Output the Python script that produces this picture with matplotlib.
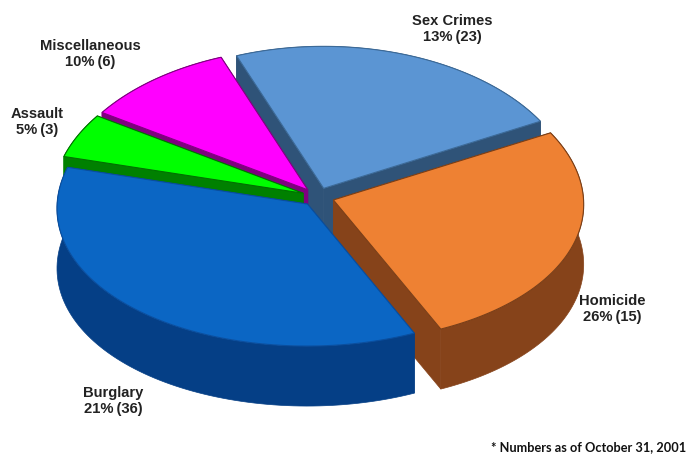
import matplotlib
matplotlib.use('Agg')
import matplotlib.pyplot as plt
import numpy as np
from matplotlib.patches import Polygon

names = ['Sex Crimes', 'Homicide', 'Burglary', 'Assault', 'Miscellaneous']
shares = [23, 26, 36, 5, 10]
percent_text = ['13%', '26%', '21%', '5%', '10%']
count_text = ['(23)', '(15)', '(36)', '(3)', '(6)']
top_colors = ['#5B95D3', '#EE8133', '#0B66C4', '#00FF00', '#FF00FF']
wall_colors = ['#2F5378', '#86431A', '#053F86', '#008000', '#7F007F']
edge_colors = ['#3C6A98', '#7A3F18', '#0A4E9E', '#007000', '#800080']

# label anchors, in pixels of the finished figure
label_pos = [(452, 29), (612, 309), (113, 401), (37, 122), (90, 54)]
draw_order = [0, 4, 3, 1, 2]

cx, cy = 318, 197
rx, ry = 250, 142
depth = 60
explode = 0.065
start = -21.0
persp_x = 0.03

fig = plt.figure(figsize=(6.88, 4.54), dpi=100)
ax = fig.add_axes([0, 0, 1, 1])
ax.set_xlim(0, 688)
ax.set_ylim(454, 0)
ax.axis('off')

edges = start + np.cumsum([0] + shares) * 3.6


# u to the right, v towards the viewer, both in units of the pie radius
def project(u, v):
    x = cx + rx * u * (1 + persp_x * v)
    y = cy + ry * v
    return np.column_stack([x, y])


for i in draw_order:
    a0, a1 = edges[i], edges[i + 1]
    mid = np.radians((a0 + a1) / 2)
    u0 = explode * np.sin(mid)
    v0 = -explode * np.cos(mid)
    t = np.radians(np.linspace(a0, a1, 90))
    arc = project(u0 + np.sin(t), v0 - np.cos(t))
    tip = project(np.array([u0]), np.array([v0]))
    top = np.vstack([tip, arc])
    down = np.array([0, depth])

    # radial walls first, then the rim, then the lid on top of them
    for end in (arc[0], arc[-1]):
        wall = np.array([tip[0], end, end + down, tip[0] + down])
        ax.add_patch(Polygon(wall, closed=True, fc=wall_colors[i], ec=wall_colors[i], lw=0.5))
    rim = np.vstack([arc, (arc + down)[::-1]])
    ax.add_patch(Polygon(rim, closed=True, fc=wall_colors[i], ec=wall_colors[i], lw=0.5))
    ax.add_patch(Polygon(top, closed=True, fc=top_colors[i], ec=edge_colors[i], lw=0.8))

for i in range(len(names)):
    x, y = label_pos[i]
    ax.text(x, y, names[i] + '\n' + percent_text[i] + '\u2009' + count_text[i], ha='center', va='center',
            family='Liberation Sans', fontweight='bold', fontsize=10.6, color='#222222', linespacing=1.18)

ax.text(686, 447, '* Numbers as of October 31, 2001', ha='right', va='center',
        family='Lato', fontweight='bold', fontsize=9.15, color='#111111')

fig.savefig('out.png', dpi=100, facecolor='white')
